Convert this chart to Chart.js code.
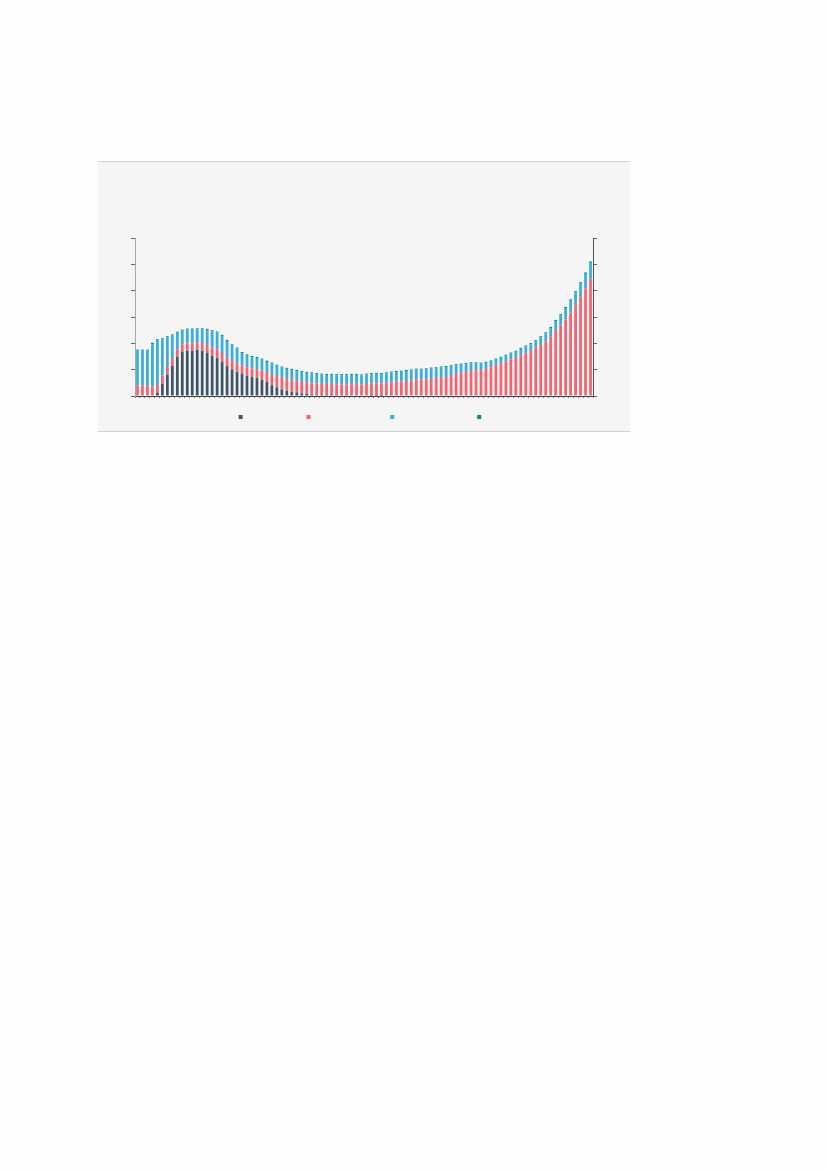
<!DOCTYPE html>
<html>
<head>
<meta charset="utf-8">
<script src="https://cdn.jsdelivr.net/npm/chart.js@4.4.1/dist/chart.umd.min.js"></script>
<style>
    html, body {
        margin: 0;
        padding: 0;
        background: #fefefe;
    }
    #panel {
        position: absolute;
        left: 98px;
        top: 161px;
        width: 532px;
        height: 269px;
        background: #f5f5f5;
        border-top: 1px solid #d2d2d2;
        border-bottom: 1px solid #d2d2d2;
    }
    #wrap {
        position: absolute;
        left: 0;
        top: 0;
        width: 532px;
        height: 300px;
    }
</style>
</head>
<body>
<div id="panel">
    <div id="wrap"><canvas id="chart"></canvas></div>
</div>
<script>
// categories (tick labels are not shown in the picture)
const categories = [
    '0', '1', '2', '3', '4', '5', '6', '7', '8', '9',
    '10', '11', '12', '13', '14', '15', '16', '17', '18', '19',
    '20', '21', '22', '23', '24', '25', '26', '27', '28', '29',
    '30', '31', '32', '33', '34', '35', '36', '37', '38', '39',
    '40', '41', '42', '43', '44', '45', '46', '47', '48', '49',
    '50', '51', '52', '53', '54', '55', '56', '57', '58', '59',
    '60', '61', '62', '63', '64', '65', '66', '67', '68', '69',
    '70', '71', '72', '73', '74', '75', '76', '77', '78', '79',
    '80', '81', '82', '83', '84', '85', '86', '87', '88', '89',
    '90', '91',
];

const darkValues = [
    0, 0, 0, 0, 1.3, 4.7, 8.1, 11.4, 14.9, 16.7,
    17.1, 17.1, 17.5, 17.2, 16.5, 15.2, 14.4, 12.9, 11.4, 10.1,
    9.1, 8.5, 7.6, 7.2, 6.8, 6.1, 5.3, 4.1, 3.3, 2.5,
    2.0, 1.5, 1.4, 1.0, 0.8, 0.6, 0.5, 0.5, 0.4, 0.4,
    0.3, 0.3, 0.3, 0.3, 0.3, 0.2, 0.2, 0.1, 0.1, 0.1,
    0, 0, 0, 0, 0, 0, 0, 0, 0, 0,
    0, 0, 0, 0, 0, 0, 0, 0, 0, 0,
    0, 0, 0, 0, 0, 0, 0, 0, 0, 0,
    0, 0, 0, 0, 0, 0, 0, 0, 0, 0,
    0, 0,
];

const redValues = [
    3.9, 3.9, 3.9, 3.2, 2.9, 3.0, 2.9, 3.0, 2.8, 2.9,
    2.9, 2.9, 2.5, 2.9, 2.9, 3.3, 3.2, 3.4, 3.3, 3.2,
    3.2, 3.0, 3.3, 3.3, 3.3, 3.5, 3.8, 4.0, 4.3, 4.4,
    4.4, 4.6, 4.2, 4.3, 4.3, 4.2, 4.2, 4.1, 4.2, 4.2,
    4.0, 4.0, 4.0, 4.2, 4.2, 4.2, 4.4, 4.6, 4.7, 4.7,
    4.9, 5.1, 5.4, 5.4, 5.7, 5.8, 6.2, 6.2, 6.3, 6.5,
    6.8, 6.9, 7.2, 7.6, 8.4, 8.6, 9.1, 9.5, 9.7, 9.8,
    10.3, 10.9, 11.5, 12.3, 13.0, 13.8, 14.5, 15.5, 16.1, 17.1,
    18.3, 19.4, 20.8, 22.5, 24.7, 26.7, 29.1, 31.6, 34.4, 37.5,
    40.9, 44.4,
];

const blueValues = [
    13.3, 13.3, 13.3, 16.5, 17.0, 13.8, 11.3, 8.6, 6.3, 5.2,
    5.2, 5.2, 5.3, 5.2, 5.7, 6.1, 6.5, 6.5, 6.2, 5.8,
    5.7, 4.8, 4.4, 4.3, 4.3, 4.2, 3.8, 4.2, 3.9, 3.9,
    3.9, 3.8, 3.8, 3.7, 3.7, 3.8, 3.6, 3.5, 3.4, 3.4,
    3.6, 3.6, 3.6, 3.5, 3.5, 3.4, 3.5, 3.6, 3.6, 3.5,
    3.7, 3.8, 3.7, 3.8, 3.8, 3.9, 3.8, 3.8, 3.8, 3.9,
    3.7, 3.9, 3.8, 3.7, 3.3, 3.3, 3.0, 2.9, 2.7, 2.5,
    2.3, 2.1, 2.3, 2.2, 2.3, 2.3, 2.3, 2.4, 2.7, 2.5,
    2.5, 2.9, 3.0, 3.3, 3.7, 3.9, 4.2, 4.6, 4.9, 5.2,
    5.5, 6.2,
];

const tealValues = [
    0.4, 0.4, 0.4, 0.5, 0.4, 0.4, 0.4, 0.4, 0.4, 0.4,
    0.4, 0.4, 0.4, 0.4, 0.4, 0.4, 0.4, 0.4, 0.4, 0.5,
    0.4, 0.4, 0.5, 0.4, 0.4, 0.4, 0.5, 0.4, 0.4, 0.4,
    0.4, 0.4, 0.5, 0.5, 0.4, 0.4, 0.4, 0.4, 0.4, 0.4,
    0.4, 0.4, 0.4, 0.4, 0.4, 0.4, 0.4, 0.4, 0.4, 0.4,
    0.4, 0.4, 0.4, 0.4, 0.4, 0.4, 0.4, 0.4, 0.4, 0.4,
    0.4, 0.4, 0.4, 0.4, 0.4, 0.4, 0.4, 0.4, 0.4, 0.4,
    0.4, 0.5, 0.4, 0.4, 0.4, 0.4, 0.4, 0.4, 0.4, 0.5,
    0.4, 0.4, 0.4, 0.4, 0.5, 0.5, 0.5, 0.5, 0.5, 0.5,
    0.5, 0.5,
];

// the legend texts are blank in the picture, only the boxes show
const seriesLabels = [
    '\u0020'.repeat(16),
    '\u0020'.repeat(21),
    '\u0020'.repeat(22),
    '\u0020',
];

const yMin = 0;
const yMax = 60;
const yStep = 10;

const colors = ['#3f5468', '#f2646f', '#3aadde', '#0c8a6b'];

const seriesValues = [darkValues, redValues, blueValues, tealValues];

const datasets = seriesValues.map((data, i) => ({
    label: seriesLabels[i],
    data,
    backgroundColor: colors[i],
    borderWidth: 0,
    barPercentage: 0.55,
    categoryPercentage: 1.0,
}));

const yAxis = (position, borderColor) => ({
    position,
    stacked: true,
    min: yMin,
    max: yMax,
    afterFit: (scale) => { scale.width = 4; },
    ticks: {
        display: false,
        stepSize: yStep,
    },
    grid: {
        drawOnChartArea: false,
        drawTicks: true,
        tickLength: 4,
        color: '#666',
    },
    border: {
        color: borderColor,
        width: 1,
    },
});

new Chart('chart', {
    type: 'bar',
    data: {
        labels: categories,
        datasets,
    },
    options: {
        responsive: true,
        maintainAspectRatio: false,
        animation: false,
        layout: {
            padding: { left: 33, right: 33, top: 76, bottom: 30 },
        },
        scales: {
            x: {
                stacked: true,
                afterFit: (scale) => { scale.height = 8; },
                ticks: {
                    display: false,
                },
                grid: {
                    drawOnChartArea: false,
                    drawTicks: true,
                    tickLength: 2,
                    color: '#777',
                },
                border: {
                    color: '#444',
                    width: 1,
                },
            },
            y: yAxis('left', '#a8a8a8'),
            y2: yAxis('right', '#555'),
        },
        plugins: {
            legend: {
                position: 'bottom',
                labels: {
                    boxWidth: 4,
                    boxHeight: 4,
                    padding: 8,
                    color: 'rgba(0,0,0,0)',
                    font: {
                        family: 'DejaVu Sans',
                        size: 10,
                    },
                },
            },
            tooltip: {
                enabled: false,
            },
        },
    },
});
</script>
</body>
</html>
